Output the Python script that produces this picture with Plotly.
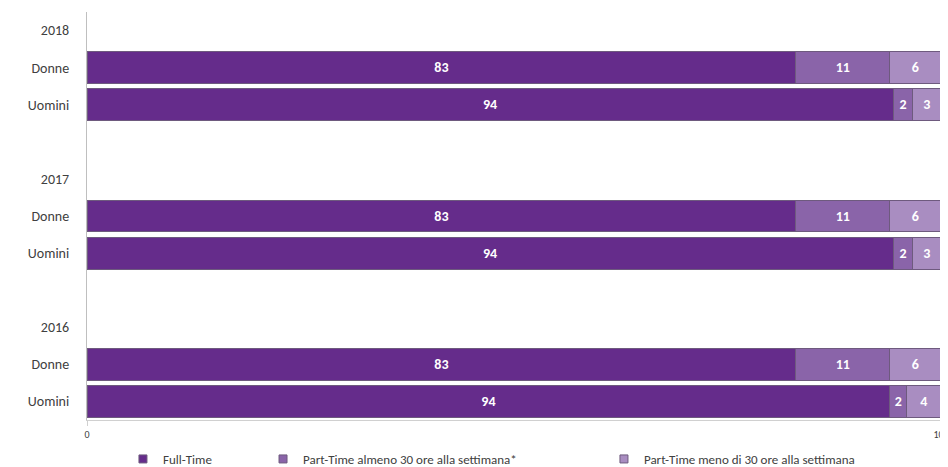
import plotly.graph_objects as go

row_labels = ["2018", "Donne", "Uomini", "", "2017", "Donne", "Uomini", "", "2016", "Donne", "Uomini"]
bar_rows = [1, 2, 5, 6, 9, 10]  # indices in row_labels holding bars

full_time = [83, 94.4, 83, 94.4, 83, 94]
pt_30_plus = [11, 2.3, 11, 2.3, 11, 2]
pt_under_30 = [6, 3.3, 6, 3.3, 6, 4]

series_names = ["Full-Time", "Part-Time almeno 30 ore alla settimana*", "Part-Time meno di 30 ore alla settimana"]
series_values = [full_time, pt_30_plus, pt_under_30]
colors = ["#652c8b", "#8a64a9", "#a98dc1"]
legend_ids = ["legend", "legend2", "legend3"]
legend_x = [0.1223, 0.2713, 0.634]

FONT = "Carlito, Lato, sans-serif"
EDGE = "#6e5a7e"

fig = go.Figure()
for name, vals, col, lg in zip(series_names, series_values, colors, legend_ids):
    fig.add_trace(go.Bar(
        y=bar_rows, x=vals, name=name, orientation="h",
        marker=dict(color=col, line=dict(color=EDGE, width=1)),
        width=0.86,
        text=[f"{v:.0f}" for v in vals],
        textposition="inside", insidetextanchor="middle",
        textfont=dict(color="white", size=14, family=FONT, weight="bold"),
        cliponaxis=False,
        showlegend=False,
    ))
    fig.add_trace(go.Scatter(
        x=[None], y=[None], mode="markers", name=name,
        marker=dict(symbol="square", size=8, color=col, line=dict(color=EDGE, width=1)),
        legend=lg, showlegend=True,
    ))

legend_common = dict(yref="container", xref="container", y=8 / 459, yanchor="middle",
                     xanchor="left", orientation="h", itemwidth=30,
                     font=dict(size=13, color="#404040"), bgcolor="rgba(0,0,0,0)")

# page body has an 8px margin; figure sized to the visible window area
fig.update_layout(
    width=940, height=459,
    barmode="stack",
    plot_bgcolor="white", paper_bgcolor="white",
    margin=dict(l=79, r=7, t=4, b=47, autoexpand=False),
    font=dict(family=FONT, color="#404040", size=14),
    uniformtext=dict(minsize=8, mode="show"),
    xaxis=dict(range=[0, 100], tickvals=[0, 100], ticktext=["0", "100"],
               showgrid=False, zeroline=False, showline=True, linecolor="#d0d0d0",
               ticks="outside", ticklen=5, tickcolor="#d0d0d0", automargin=False,
               ticklabeloverflow="allow",
               tickfont=dict(size=10, color="#404040")),
    yaxis=dict(range=[10.5, -0.5], tickvals=list(range(len(row_labels))), ticktext=row_labels,
               showgrid=False, zeroline=False, showline=True, linecolor="#bfbfbf",
               ticks="", ticklabelstandoff=14, automargin=False,
               tickfont=dict(size=14, color="#404040")),
    legend=dict(x=legend_x[0], **legend_common),
    legend2=dict(x=legend_x[1], **legend_common),
    legend3=dict(x=legend_x[2], **legend_common),
    showlegend=True,
)

fig.write_html("out.html")
